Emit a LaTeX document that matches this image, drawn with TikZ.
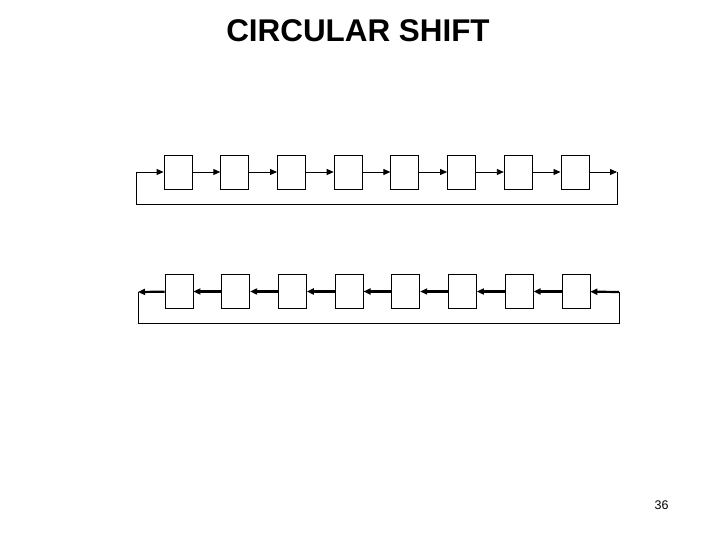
\documentclass[tikz,border=0pt]{standalone}
\usepackage{fontspec}
\setmainfont{Liberation Sans}
\usetikzlibrary{arrows.meta}
\begin{document}
\begin{tikzpicture}[x=1pt,y=-1pt,
            reg/.style = {draw, line width=0.8pt, minimum width=28pt, minimum height=34pt, inner sep=0pt},
            shiftline/.style = {-{Triangle[length=7pt,width=6pt]}},
            boldline/.style = {line width=2.2pt}]
\useasboundingbox (0,0) rectangle (720,540);
\node[font=\bfseries\fontsize{31.4}{36}\selectfont] (title) at (358,31) {CIRCULAR SHIFT};

% registers
\foreach \i in {1,...,8} {
    \node[reg] (t\i) at ({178+56.7*(\i-1)},172) {};
    \node[reg] (b\i) at ({179+56.7*(\i-1)},291.5) {};
}

% shift right, top row
\coordinate (tin) at (136,172);
\coordinate (tout) at (617,172);
\coordinate (tlow) at (136,204);
\draw[shiftline, line width=0.9pt] (tin) -- (t1);
\foreach \i in {1,...,7} {
    \pgfmathtruncatemacro{\j}{\i+1}
    \draw[shiftline, line width=0.9pt] (t\i) -- (t\j);
}
\draw[shiftline, line width=0.9pt] (t8) -- (tout);
\draw[line width=0.9pt] (tout) |- (tlow) -- (tin);

% shift left, bottom row
\coordinate (bin) at (619,292);
\coordinate (bout) at (138,292);
\coordinate (blow) at (619,323);
\draw[shiftline, boldline] (bin) -- (b8);
\foreach \i in {1,...,7} {
    \pgfmathtruncatemacro{\j}{\i+1}
    \draw[shiftline, boldline] (b\j) -- (b\i);
}
\draw[shiftline, boldline] (b1) -- (bout);
\draw[line width=1pt] (bout) |- (blow) -- (bin);

\node[font=\fontsize{12.5}{15}\selectfont] (pagenum) at (661.5,505.5) {36};
\end{tikzpicture}
\end{document}
